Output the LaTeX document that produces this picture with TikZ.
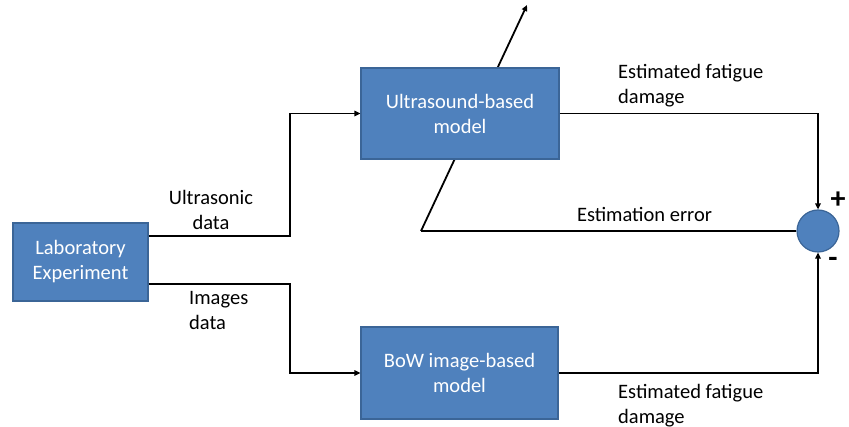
\documentclass[tikz,border=0pt]{standalone}
\usepackage{fontspec}
\setmainfont{Carlito}
\usetikzlibrary{arrows.meta}
\definecolor{boxblue}{HTML}{4F81BD}
\definecolor{boxedge}{HTML}{3B6597}
\begin{document}
\begin{tikzpicture}[x=1pt,y=-1pt,
  font=\fontsize{20.5}{25}\selectfont,
  block/.style={draw=boxedge, line width=1.2pt, fill=boxblue, text=white,
    align=center, inner sep=0pt},
  wire/.style={line width=1.8pt, line join=miter},
  arr/.style={wire, -{Triangle[length=6pt,width=5.5pt]}},
  lbl/.style={align=left, inner sep=0pt, anchor=north west},
  sign/.style={inner sep=0pt, font=\fontsize{30}{30}\selectfont\bfseries}]
\useasboundingbox (0,0) rectangle (849,427);

% feedback path: the error line runs back and crosses the model diagonally
\coordinate (errcorner) at (421,231);
\coordinate (tune) at (527,5);
\draw[arr] (errcorner) -- (tune);

% blocks
\node[block, minimum width=135pt, minimum height=78pt] (lab) at (80.5,262) {Laboratory\\Experiment};
\node[block, minimum width=198pt, minimum height=91pt] (us) at (460,113.5) {Ultrasound-based\\model};
\node[block, minimum width=197pt, minimum height=92pt] (bow) at (459.5,373) {BoW image-based\\model};
\node[circle, draw=boxedge, line width=1.2pt, fill=boxblue, minimum size=42pt, inner sep=0pt] (sum) at (818,231) {};

% data paths
\draw[arr] (lab.east |- 0,236) -- (290,236) |- (us.west);
\draw[arr] (lab.east |- 0,284) -- (290,284) |- (bow.west);
\draw[arr] (us.east) -| (sum.north);
\draw[arr] (bow.east) -| (sum.south);
\draw[wire] (sum.west) -- (errcorner);

% labels
\node[align=center, inner sep=0pt] (lus) at (211,210) {Ultrasonic\\data};
\node[lbl] (limg) at (189,291) {Images\\data};
\node[lbl] (lest1) at (618,64) {Estimated fatigue\\damage};
\node[lbl] (lest2) at (618,384) {Estimated fatigue\\damage};
\node[inner sep=0pt] (lerr) at (644.5,214) {Estimation error};
\node[sign] (plus) at (838,200) {+};
\node[sign] (minus) at (833,262) {-};
\end{tikzpicture}
\end{document}
